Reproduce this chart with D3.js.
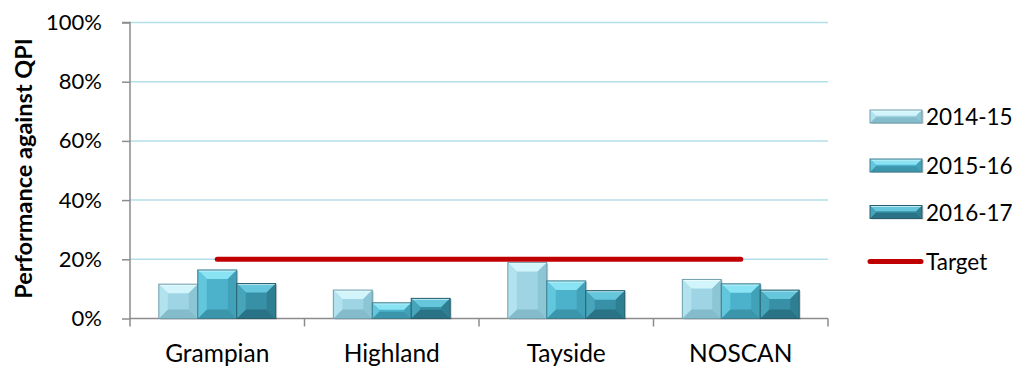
<!DOCTYPE html>
<html>
<head>
<meta charset="utf-8">
<script src="https://cdn.jsdelivr.net/npm/d3@7/dist/d3.min.js"></script>
<style>
  html, body { margin: 0; padding: 0; background: #fff; }
  svg text { font-family: Lato, "Noto Sans", sans-serif; fill: #000; }
</style>
</head>
<body>
<svg id="chart" width="1019" height="368"></svg>
<script>
// Boards and reporting years
const categories = ["Grampian", "Highland", "Tayside", "NOSCAN"];
const seriesNames = ["2014-15", "2015-16", "2016-17"];
// Performance (%) per year, one array per year in board order
const values2014 = [11.6, 9.6, 18.9, 13.2];
const values2015 = [16.4, 5.3, 12.7, 11.7];
const values2016 = [11.8, 6.8, 9.4, 9.6];
const targetValue = 20;
const yTicks = [0, 20, 40, 60, 80, 100];
const yTitle = "Performance against QPI";
const targetLabel = "Target";

const seriesValues = [values2014, values2015, values2016];

// Bevel palette per year: base, top highlight, bottom shade, sides
const palettes = [
  { base: "#9ed4e3", top: "#d2f5fb", bottom: "#84bccb", left: "#b2e2ee", right: "#8cc5d4", edge: "#6f9fae" },
  { base: "#4cb2cb", top: "#8ae3f3", bottom: "#3b95ab", left: "#62c6dc", right: "#41a1b8", edge: "#3b7d8e" },
  { base: "#3790a6", top: "#66c6dc", bottom: "#2a7285", left: "#47a5bb", right: "#2f7f93", edge: "#275f6e" }
];

const svg = d3.select("#chart");
const plotLeft = 130, plotRight = 828, plotTop = 22.5, plotBottom = 318.5;

const x = d3.scaleBand().domain(categories).range([plotLeft, plotRight]).padding(0);
const xs = d3.scaleBand().domain(seriesNames).range([0, x.bandwidth()])
  .paddingInner(0).paddingOuter(0.74);
const y = d3.scaleLinear().domain([0, 100]).range([plotBottom, plotTop]);

// Gridlines
svg.append("g").selectAll("line").data(yTicks.filter(d => d > 0)).join("line")
  .attr("x1", plotLeft).attr("x2", plotRight)
  .attr("y1", d => y(d)).attr("y2", d => y(d))
  .attr("stroke", "#b3dfeb").attr("stroke-width", 1.5);

// Y axis
const yAxis = d3.axisLeft(y).tickValues(yTicks).tickFormat(d => d + "%")
  .tickSize(8).tickPadding(20);
const gy = svg.append("g").attr("transform", `translate(${plotLeft},0)`).call(yAxis);
gy.select(".domain").attr("stroke", "#8c8c8c").attr("stroke-width", 1.5)
  .attr("d", `M-8,${plotTop}H0V${plotBottom + 8}`);
gy.selectAll(".tick line").attr("stroke", "#8c8c8c").attr("stroke-width", 1.5);
gy.selectAll(".tick text").attr("font-size", 22).attr("fill", "#000")
  .attr("font-family", "Lato, sans-serif");

// X axis with ticks at category boundaries
const gx = svg.append("g");
gx.append("line").attr("x1", plotLeft).attr("x2", plotRight).attr("y1", plotBottom).attr("y2", plotBottom)
  .attr("stroke", "#8c8c8c").attr("stroke-width", 1.5);
const bounds = categories.map(c => x(c)).concat([x(categories[categories.length - 1]) + x.bandwidth()]);
gx.selectAll("line.tk").data(bounds.slice(1)).join("line").attr("class", "tk")
  .attr("x1", d => d).attr("x2", d => d).attr("y1", plotBottom).attr("y2", plotBottom + 8)
  .attr("stroke", "#8c8c8c").attr("stroke-width", 1.5);
gx.selectAll("text").data(categories).join("text")
  .attr("x", d => x(d) + x.bandwidth() / 2).attr("y", 361.5)
  .attr("text-anchor", "middle").attr("font-size", 24.5).text(d => d);

// Bevelled bar shape
function drawBevelBar(g, bx, by, w, h, p) {
  const d = Math.max(0, Math.min(9, h / 2.3, w / 2.3));
  g.append("rect").attr("x", bx + 1.5).attr("y", by + 1).attr("width", w).attr("height", h)
    .attr("fill", "rgba(0,0,0,0.18)");
  g.append("rect").attr("x", bx).attr("y", by).attr("width", w).attr("height", h).attr("fill", p.base);
  const poly = pts => g.append("polygon").attr("points", pts.map(q => q.join(",")).join(" "));
  poly([[bx, by], [bx + w, by], [bx + w - d, by + d], [bx + d, by + d]]).attr("fill", p.top);
  poly([[bx, by + h], [bx + w, by + h], [bx + w - d, by + h - d], [bx + d, by + h - d]]).attr("fill", p.bottom);
  poly([[bx, by], [bx + d, by + d], [bx + d, by + h - d], [bx, by + h]]).attr("fill", p.left);
  poly([[bx + w, by], [bx + w - d, by + d], [bx + w - d, by + h - d], [bx + w, by + h]]).attr("fill", p.right);
  g.append("line").attr("x1", bx + 1).attr("x2", bx + w - 1).attr("y1", by + 1).attr("y2", by + 1)
    .attr("stroke", "#ffffff").attr("stroke-opacity", 0.6).attr("stroke-width", 1);
  g.append("rect").attr("x", bx).attr("y", by).attr("width", w).attr("height", h)
    .attr("fill", "none").attr("stroke", p.edge).attr("stroke-width", 1);
}

const barsG = svg.append("g");
seriesNames.forEach((s, si) => {
  categories.forEach((c, ci) => {
    const v = seriesValues[si][ci];
    const bx = x(c) + xs(s);
    const by = y(v);
    drawBevelBar(barsG.append("g"), bx, by, xs.bandwidth(), y(0) - by, palettes[si]);
  });
});

// Target line across the board centres
const firstC = categories[0], lastC = categories[categories.length - 1];
svg.append("line")
  .attr("x1", x(firstC) + x.bandwidth() / 2).attr("x2", x(lastC) + x.bandwidth() / 2)
  .attr("y1", y(targetValue)).attr("y2", y(targetValue))
  .attr("stroke", "#c00000").attr("stroke-width", 5).attr("stroke-linecap", "round");

// Y axis title
svg.append("text")
  .attr("transform", `translate(23,${(plotTop + plotBottom) / 2 - 2}) rotate(-90)`)
  .attr("text-anchor", "middle").attr("dominant-baseline", "central")
  .attr("font-weight", "bold").attr("font-size", 23.5).text(yTitle);

// Legend
const legend = svg.append("g");
const legendY = [116.5, 165.5, 212, 261.5];
seriesNames.forEach((s, i) => {
  const g = legend.append("g");
  drawBevelBar(g, 870, legendY[i] - 6.5, 52, 13, palettes[i]);
  g.append("text").attr("x", 926).attr("y", legendY[i]).attr("dominant-baseline", "central")
    .attr("font-size", 22.5).text(s);
});
legend.append("line").attr("x1", 870).attr("x2", 921).attr("y1", legendY[3]).attr("y2", legendY[3])
  .attr("stroke", "#c00000").attr("stroke-width", 5).attr("stroke-linecap", "round");
legend.append("text").attr("x", 926).attr("y", legendY[3]).attr("dominant-baseline", "central")
  .attr("font-size", 22.5).text(targetLabel);
</script>
</body>
</html>
